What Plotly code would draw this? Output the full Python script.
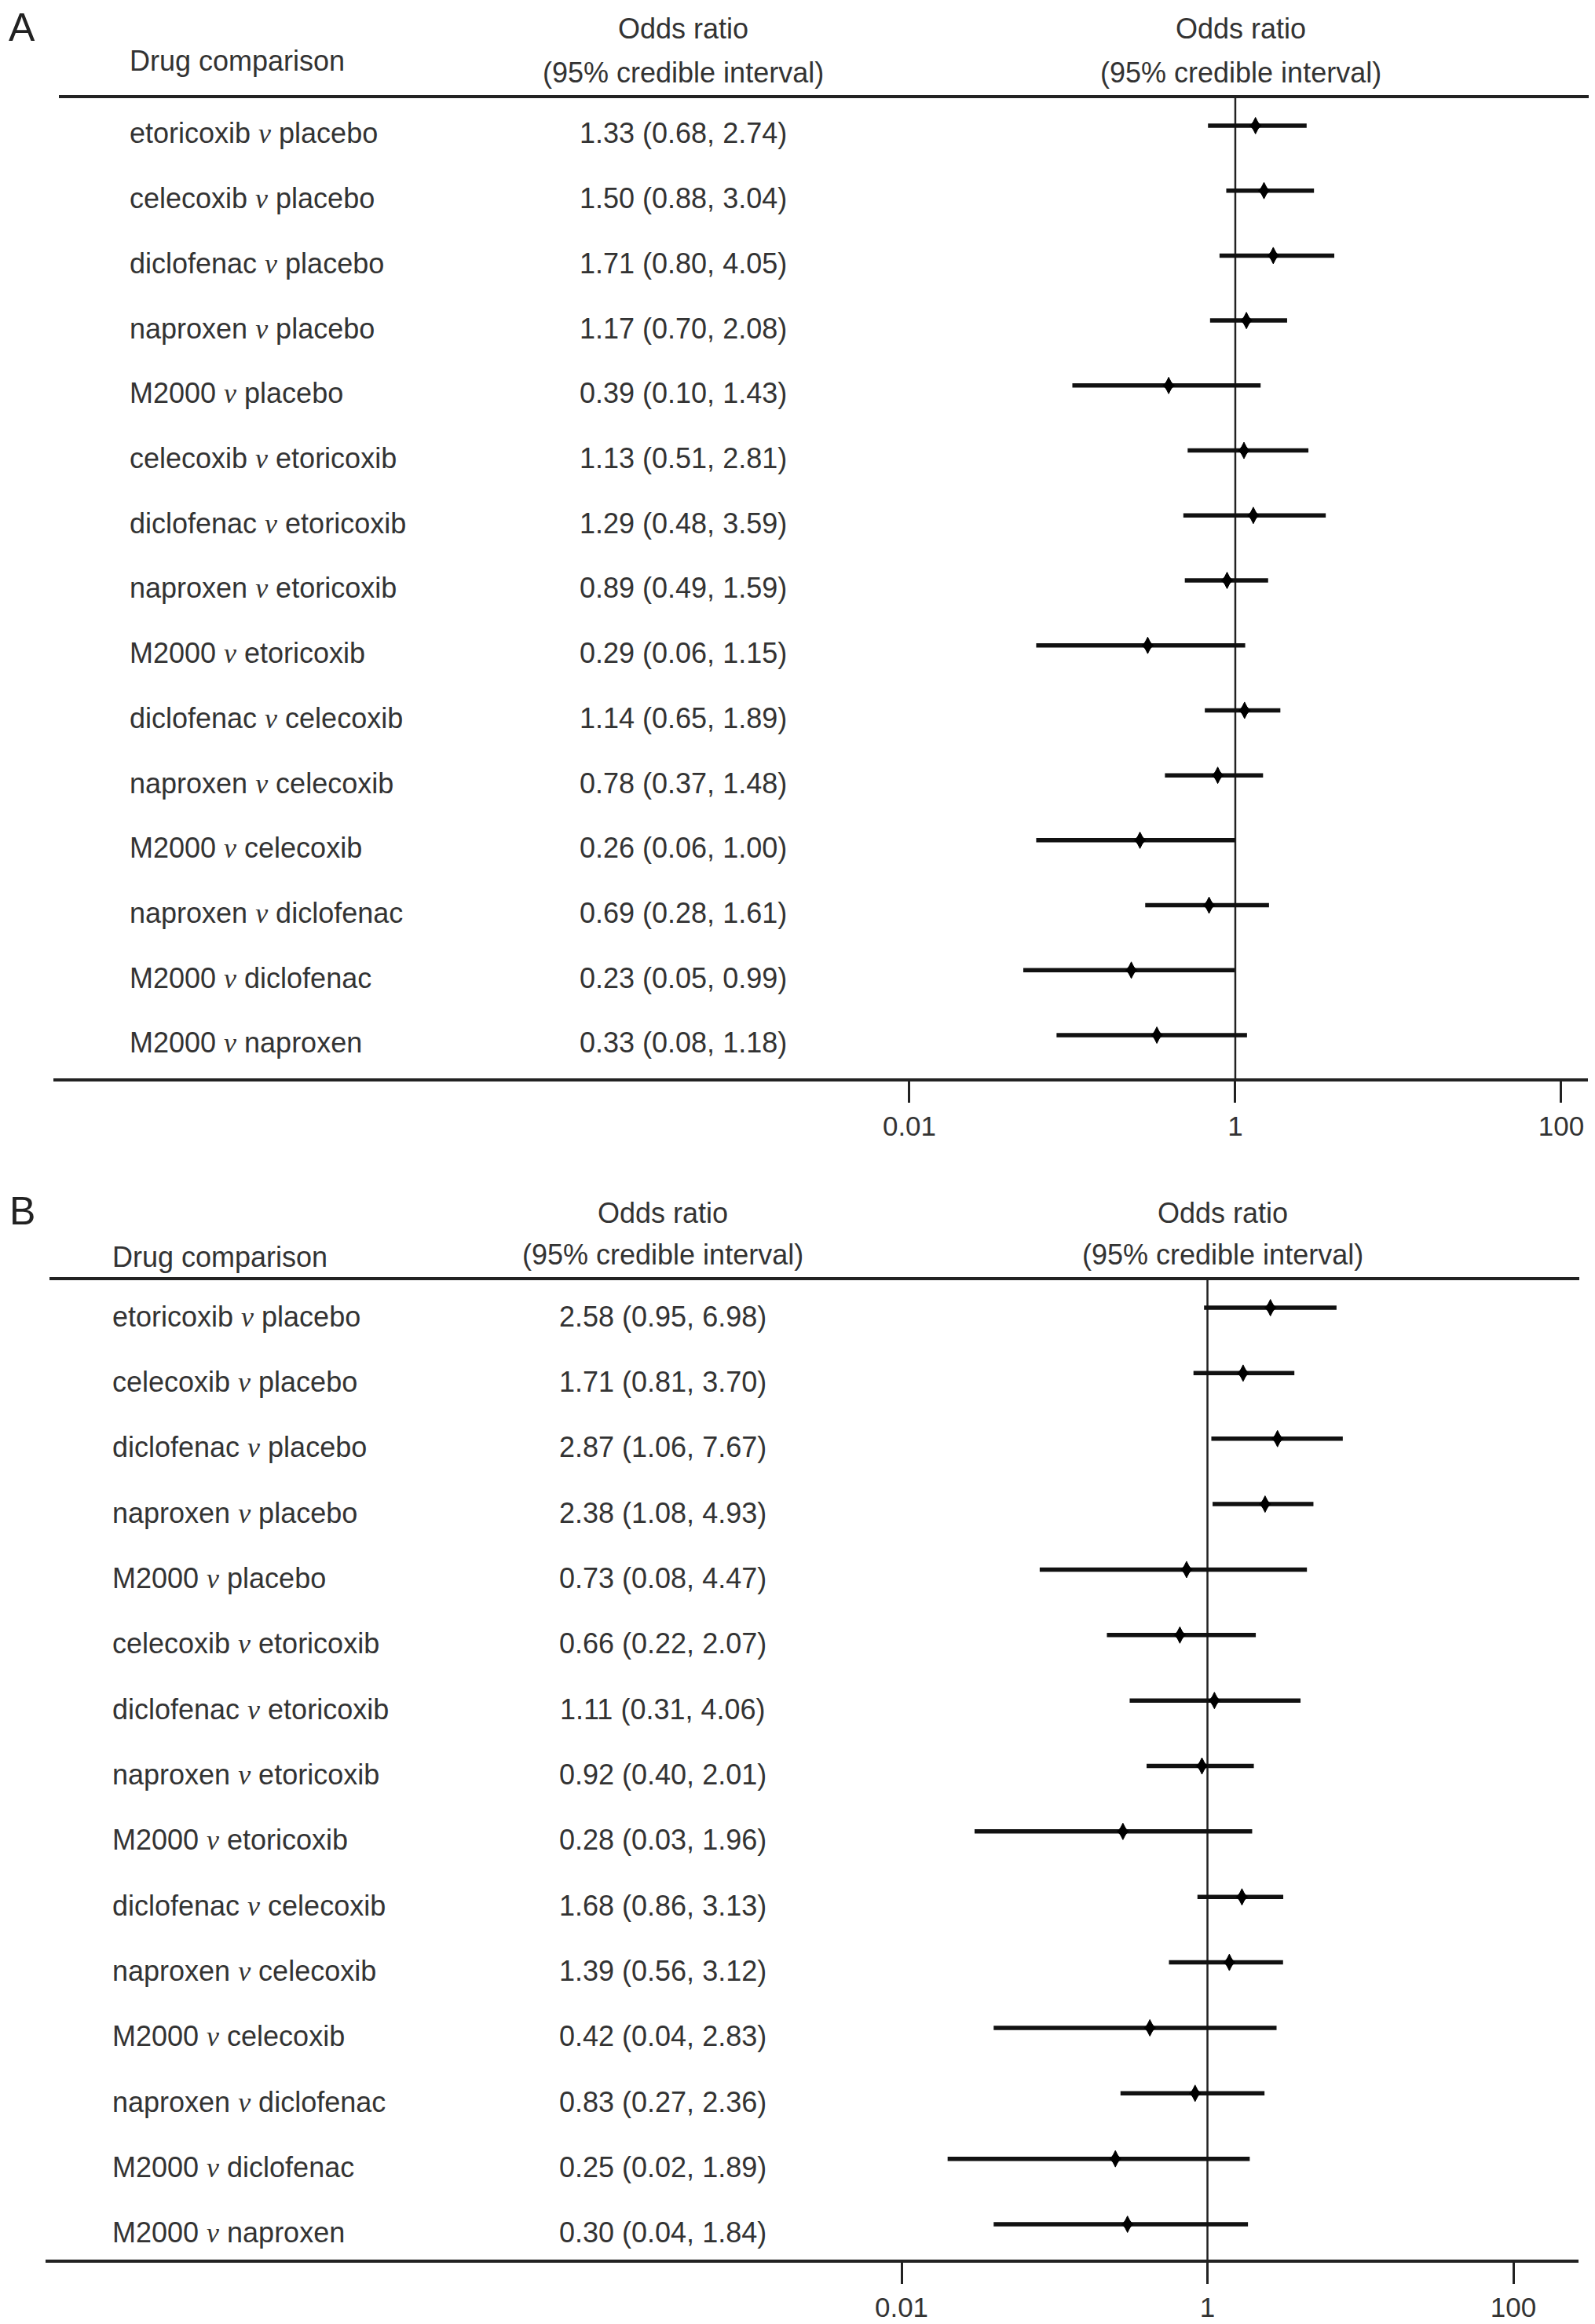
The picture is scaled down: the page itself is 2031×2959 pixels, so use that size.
import plotly.graph_objects as go

# ── Data ──────────────────────────────────────────────────────────────────────
comparisons = [
    "etoricoxib v placebo", "celecoxib v placebo", "diclofenac v placebo",
    "naproxen v placebo", "M2000 v placebo", "celecoxib v etoricoxib",
    "diclofenac v etoricoxib", "naproxen v etoricoxib", "M2000 v etoricoxib",
    "diclofenac v celecoxib", "naproxen v celecoxib", "M2000 v celecoxib",
    "naproxen v diclofenac", "M2000 v diclofenac", "M2000 v naproxen",
]

# Panel A
or_a = [1.33, 1.50, 1.71, 1.17, 0.39, 1.13, 1.29, 0.89, 0.29, 1.14, 0.78, 0.26, 0.69, 0.23, 0.33]
lo_a = [0.68, 0.88, 0.80, 0.70, 0.10, 0.51, 0.48, 0.49, 0.06, 0.65, 0.37, 0.06, 0.28, 0.05, 0.08]
hi_a = [2.74, 3.04, 4.05, 2.08, 1.43, 2.81, 3.59, 1.59, 1.15, 1.89, 1.48, 1.00, 1.61, 0.99, 1.18]

# Panel B
or_b = [2.58, 1.71, 2.87, 2.38, 0.73, 0.66, 1.11, 0.92, 0.28, 1.68, 1.39, 0.42, 0.83, 0.25, 0.30]
lo_b = [0.95, 0.81, 1.06, 1.08, 0.08, 0.22, 0.31, 0.40, 0.03, 0.86, 0.56, 0.04, 0.27, 0.02, 0.04]
hi_b = [6.98, 3.70, 7.67, 4.93, 4.47, 2.07, 4.06, 2.01, 1.96, 3.13, 3.12, 2.83, 2.36, 1.89, 1.84]

tick_vals = [0.01, 1, 100]
tick_text = ["0.01", "1", "100"]
null_or = 1

# ── Style ─────────────────────────────────────────────────────────────────────
# the page body has an 8px margin, so the figure is offset by that much
OFF = 8
W, H = 2031 - OFF, 2959 - OFF
FONT = "Liberation Sans, Arial, Helvetica, sans-serif"
TXT = "#333333"
LINE = "#222222"
FS = 36


def px(x):
    return (x - OFF) / W


def py(y):
    return 1 - (y - OFF) / H


def label_html(s):
    a, b = s.split(" v ")
    return (f"{a} <i><span style=\"font-family:'Liberation Serif', serif\">v</span></i> {b}")


fig = go.Figure()

panels = [
    dict(tag="A", orr=or_a, lo=lo_a, hi=hi_a, xa="x", ya="y",
         letter_y=35, head1_y=37, head2_y=92, drug_y=77,
         lab_x=163, or_x=870, right_x=1580, hline=(75, 2025), shift=-10),
    dict(tag="B", orr=or_b, lo=lo_b, hi=hi_b, xa="x2", ya="y2",
         letter_y=1542, head1_y=1545, head2_y=1597, drug_y=1600,
         lab_x=141, or_x=844, right_x=1557, hline=(63, 2011), shift=-11),
]

for p in panels:
    n = len(p["orr"])
    rows = list(range(n))
    # interval lines + tall diamond
    fig.add_trace(go.Scatter(
        x=p["orr"], y=rows, mode="markers",
        marker=dict(symbol="diamond-tall", size=15, color="black",
                    line=dict(width=1, color="black")),
        error_x=dict(type="data", symmetric=False,
                     array=[h - o for h, o in zip(p["hi"], p["orr"])],
                     arrayminus=[o - l for o, l in zip(p["orr"], p["lo"])],
                     width=0, thickness=5.5, color="#111111"),
        xaxis=p["xa"], yaxis=p["ya"], hoverinfo="skip",
    ))
    # widen the diamond's waist a little
    fig.add_trace(go.Scatter(
        x=p["orr"], y=rows, mode="markers",
        marker=dict(symbol="diamond", size=12, color="black", line=dict(width=0)),
        xaxis=p["xa"], yaxis=p["ya"], hoverinfo="skip",
    ))

    yref = p["ya"]
    # row texts
    for i, (lab, o, l, h) in enumerate(zip(comparisons, p["orr"], p["lo"], p["hi"])):
        fig.add_annotation(x=px(p["lab_x"]), xref="paper", xanchor="left",
                           y=i, yref=yref, yanchor="middle", yshift=p["shift"],
                           text=label_html(lab), showarrow=False,
                           font=dict(family=FONT, size=FS, color=TXT))
        fig.add_annotation(x=px(p["or_x"]), xref="paper", xanchor="center",
                           y=i, yref=yref, yanchor="middle", yshift=p["shift"],
                           text=f"{o:.2f} ({l:.2f}, {h:.2f})", showarrow=False,
                           font=dict(family=FONT, size=FS, color=TXT))

    # headers
    heads = [
        (p["tag"], 28, p["letter_y"], "center", 50, "#222222"),
        ("Drug comparison", p["lab_x"], p["drug_y"], "left", FS, TXT),
        ("Odds ratio", p["or_x"], p["head1_y"], "center", FS, TXT),
        ("(95% credible interval)", p["or_x"], p["head2_y"], "center", FS, TXT),
        ("Odds ratio", p["right_x"], p["head1_y"], "center", FS, TXT),
        ("(95% credible interval)", p["right_x"], p["head2_y"], "center", FS, TXT),
    ]
    for text, x, y, xa, size, col in heads:
        fig.add_annotation(x=px(x), xref="paper", xanchor=xa,
                           y=py(y), yref="paper", yanchor="middle",
                           text=text, showarrow=False,
                           font=dict(family=FONT, size=size, color=col))

    # header rule and line of no effect
    fig.add_shape(type="line", xref="paper", yref=f"{yref} domain",
                  x0=px(p["hline"][0]), x1=min(px(p["hline"][1]), 1), y0=1, y1=1,
                  line=dict(color=LINE, width=4))
    fig.add_shape(type="line", xref=p["xa"], yref=f"{yref} domain",
                  x0=null_or, x1=null_or, y0=0, y1=1, layer="below",
                  line=dict(color=LINE, width=2.5))

xaxis_common = dict(
    type="log", showgrid=False, zeroline=False,
    showline=True, linecolor=LINE, linewidth=4,
    ticks="outside", ticklen=27, tickwidth=3, tickcolor=LINE,
    tickvals=tick_vals, ticktext=tick_text,
    tickfont=dict(family=FONT, size=35, color=TXT),
    fixedrange=True,
)
yaxis_common = dict(visible=False, fixedrange=True)

fig.update_layout(
    width=W, height=H,
    margin=dict(l=0, r=0, t=0, b=0),
    paper_bgcolor="white", plot_bgcolor="white",
    showlegend=False,
    xaxis=dict(xaxis_common, domain=[px(68), px(2022)], range=[-7.253, 2.164], anchor="y"),
    yaxis=dict(yaxis_common, domain=[py(1373), py(123)], range=[14.665, -0.447], anchor="x"),
    xaxis2=dict(xaxis_common, domain=[px(58), px(2010)], range=[-7.597, 2.426], anchor="y2"),
    yaxis2=dict(yaxis_common, domain=[py(2877), py(1628)], range=[14.54, -0.444], anchor="x2"),
)

fig.write_html("out.html")
